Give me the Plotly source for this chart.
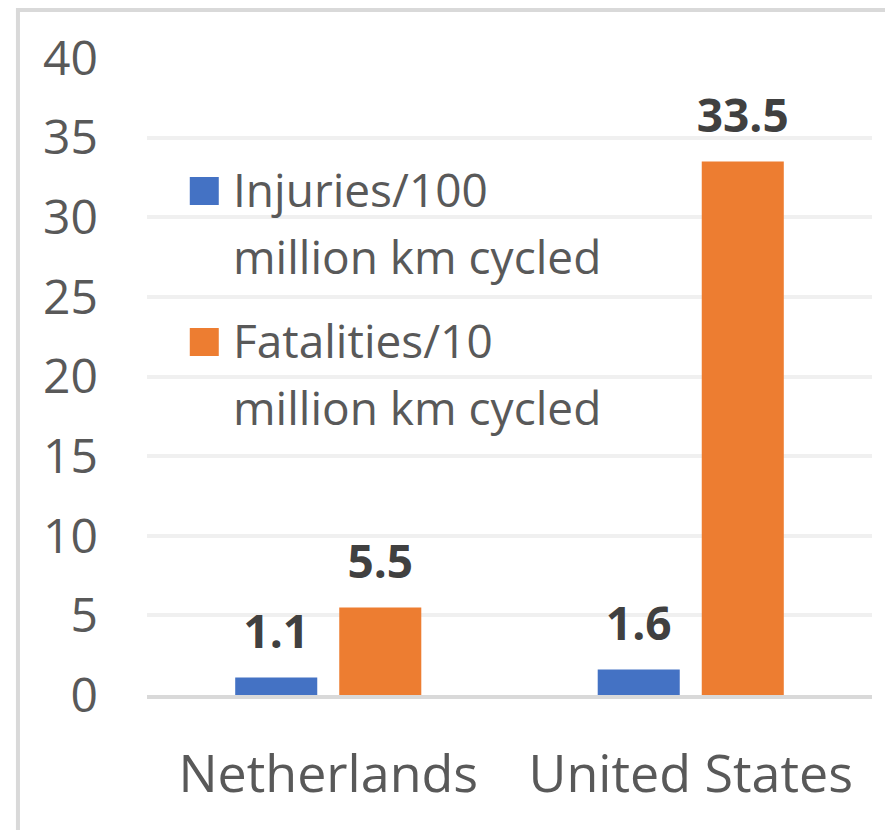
import plotly.graph_objects as go

# data
countries = ["Netherlands", "United States"]
injuries = [1.1, 1.6]
fatalities = [5.5, 33.5]
series_names = ["Injuries/100 million km cycled", "Fatalities/10 million km cycled"]
legend_lines = [["Injuries/100", "million km cycled"], ["Fatalities/10", "million km cycled"]]
y_ticks = [0, 5, 10, 15, 20, 25, 30, 35, 40]

BLUE = "#4472C4"
ORANGE = "#ED7D31"
FONT = "Open Sans, Noto Sans, sans-serif"
GAP = 0.426

fig = go.Figure()

for name, vals, col, grp in [(series_names[0], injuries, BLUE, "a"),
                             (series_names[1], fatalities, ORANGE, "b")]:
    fig.add_trace(go.Bar(
        x=countries, y=vals, name=name, offsetgroup=grp,
        marker=dict(color=col, line=dict(width=0)),
        showlegend=False, hoverinfo="skip"
    ))
    # value labels sitting above each bar
    fig.add_trace(go.Scatter(
        x=countries, y=vals, offsetgroup=grp, mode="markers+text",
        text=[f"<b>{v}</b>" for v in vals], textposition="top center",
        textfont=dict(family=FONT, size=46, color="#404040"),
        marker=dict(size=27, opacity=0), cliponaxis=False,
        showlegend=False, hoverinfo="skip"
    ))

# hand-drawn legend (big squares, wrapped labels)
legend_x = 0.059
text_x = 0.1159
entry_top = [0.8132, 0.5761]
shapes = []
annotations = []
for i, col in enumerate([BLUE, ORANGE]):
    shapes.append(dict(
        type="rect", xref="paper", yref="paper",
        xsizemode="pixel", ysizemode="pixel",
        xanchor=legend_x, yanchor=entry_top[i],
        x0=0, x1=29, y0=0, y1=-28,
        fillcolor=col, line=dict(width=0)
    ))
    for j, line in enumerate(legend_lines[i]):
        annotations.append(dict(
            x=text_x, y=entry_top[i], xref="paper", yref="paper",
            xanchor="left", yanchor="middle", showarrow=False,
            yshift=-12 - 67 * j, text=line,
            font=dict(family=FONT, size=46, color="#595959")
        ))

# outer chart border
shapes.append(dict(
    type="rect", xref="paper", yref="paper",
    x0=-0.178, x1=1.3, y0=-0.5, y1=1.0754,
    line=dict(color="#D9D9D9", width=4), fillcolor="rgba(0,0,0,0)", layer="below"
))

fig.update_layout(
    width=885, height=822,
    margin=dict(l=139, r=21, t=50, b=135),
    paper_bgcolor="white", plot_bgcolor="white",
    barmode="group", bargap=GAP, bargroupgap=0.2115,
    scattermode="group", scattergap=GAP,
    font=dict(family=FONT, color="#595959"),
    shapes=shapes, annotations=annotations,
    xaxis=dict(
        showline=True, linecolor="#D9D9D9", linewidth=4,
        showgrid=False, ticks="", ticklabelstandoff=31,
        tickfont=dict(size=52, color="#595959")
    ),
    yaxis=dict(
        range=[0, 40], tickvals=y_ticks, showline=False, zeroline=False,
        showgrid=True, gridcolor="#F0F0F0", gridwidth=4,
        ticks="", ticklabelstandoff=48,
        tickfont=dict(size=48, color="#595959")
    ),
    showlegend=False
)

fig.write_html("out.html")
